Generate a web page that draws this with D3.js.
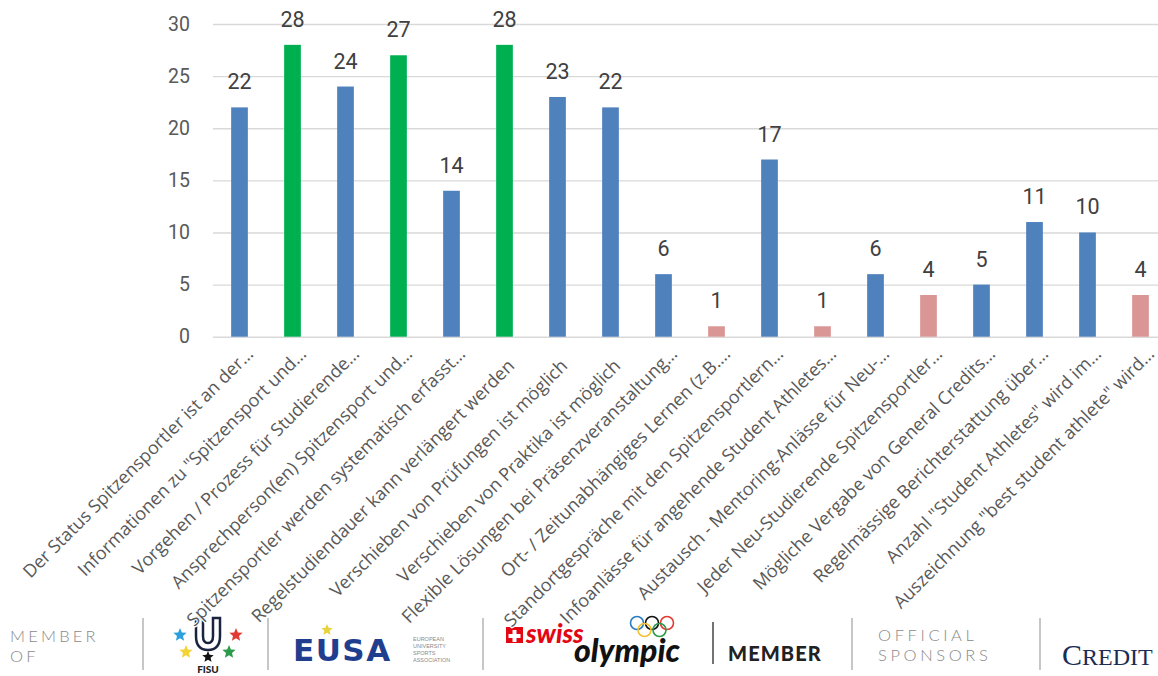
<!DOCTYPE html>
<html><head><meta charset="utf-8">
<script src="https://cdn.jsdelivr.net/npm/d3@7/dist/d3.min.js"></script>
<style>body{margin:0;background:#fff}svg{display:block}</style>
</head><body>
<svg id="c" width="1158" height="676"></svg>
<script>
const categories = [
  "Der Status Spitzensportler ist an der…",
  "Informationen zu \"Spitzensport und…",
  "Vorgehen / Prozess für Studierende…",
  "Ansprechperson(en) Spitzensport und…",
  "Spitzensportler werden systematisch erfasst…",
  "Regelstudiendauer kann verlängert werden",
  "Verschieben von Prüfungen ist möglich",
  "Verschieben von Praktika ist möglich",
  "Flexible Lösungen bei Präsenzveranstaltung…",
  "Ort- / Zeitunabhängiges Lernen (z.B.…",
  "Standortgespräche mit den Spitzensportlern…",
  "Infoanlässe für angehende Student Athletes…",
  "Austausch - Mentoring-Anlässe für Neu-…",
  "Jeder Neu-Studierende Spitzensportler…",
  "Mögliche Vergabe von General Credits…",
  "Regelmässige Berichterstattung über…",
  "Anzahl \"Student Athletes\" wird im…",
  "Auszeichnung \"best student athlete\" wird…"
];
const values = [22, 28, 24, 27, 14, 28, 23, 22, 6, 1, 17, 1, 6, 4, 5, 11, 10, 4];
const groups = ["a","b","a","b","a","b","a","a","a","c","a","c","a","c","a","a","a","c"];
const yTicks = [0, 5, 10, 15, 20, 25, 30];

const colors = {a: "#4F81BD", b: "#00B050", c: "#D99694"};
const svg = d3.select("#c");

const x = d3.scaleBand().domain(categories).range([213, 1167]).paddingInner(0.685).paddingOuter(0.3425);
const y = d3.scaleLinear().domain([0, 30]).range([336.7, 24]);

// gridlines
svg.append("g").attr("transform", "translate(213,0)")
  .call(d3.axisLeft(y).tickValues(yTicks).tickSize(-960).tickFormat(""))
  .call(g => g.select(".domain").remove())
  .call(g => g.selectAll("line").attr("stroke", "#d9d9d9").attr("stroke-width", 1.4));

// y axis labels
svg.append("g").attr("transform", "translate(213,0)")
  .call(d3.axisLeft(y).tickValues(yTicks).tickSize(0).tickPadding(23))
  .call(g => g.select(".domain").remove())
  .call(g => g.selectAll("text").attr("font-family", "Roboto, sans-serif").attr("font-size", 19.5).attr("fill", "#595959"));

// bars
svg.append("g").selectAll("rect").data(values).join("rect")
  .attr("x", (d, i) => x(categories[i]))
  .attr("width", x.bandwidth())
  .attr("y", d => y(d))
  .attr("height", d => y(0) - y(d))
  .attr("fill", (d, i) => colors[groups[i]]);

// value labels
svg.append("g").selectAll("text").data(values).join("text")
  .attr("x", (d, i) => x(categories[i]) + x.bandwidth() / 2)
  .attr("y", d => y(d) - 18)
  .attr("text-anchor", "middle")
  .attr("font-family", "Roboto, sans-serif")
  .attr("font-size", 21.5)
  .attr("fill", "#404040")
  .text(d => d);

// footer
const f = svg.append("g");
const sep = xx => f.append("line").attr("x1", xx).attr("x2", xx).attr("y1", 618).attr("y2", 670).attr("stroke", "#b5b5b5").attr("stroke-width", 1.5);
[143, 268, 483, 852, 1040].forEach(sep);
f.append("line").attr("x1", 713).attr("x2", 713).attr("y1", 622).attr("y2", 664).attr("stroke", "#444").attr("stroke-width", 1.5);

const lt = (t, xx, yy, size, fill, extra) => {
  const s = f.append("text").attr("x", xx).attr("y", yy).attr("font-size", size).attr("fill", fill)
    .attr("font-family", "Lato, 'Open Sans', sans-serif").text(t);
  if (extra) extra(s);
  return s;
};
lt("MEMBER", 10, 642, 16.5, "#8a8a8a", s => s.attr("font-weight", 300).attr("letter-spacing", 3.2));
lt("OF", 10, 662, 16.5, "#8a8a8a", s => s.attr("font-weight", 300).attr("letter-spacing", 3.2));
lt("OFFICIAL", 878, 641, 16.5, "#8a8a8a", s => s.attr("font-weight", 300).attr("letter-spacing", 3.6));
lt("SPONSORS", 878, 661, 16.5, "#8a8a8a", s => s.attr("font-weight", 300).attr("letter-spacing", 3.6));
lt("MEMBER", 728, 661, 20, "#222", s => s.attr("font-weight", 900).attr("letter-spacing", 1.1));

// FISU
f.append("path").attr("d", "M196 618 L196 636 Q196 650 208 650 Q220 650 220 636 L220 618 L213 618 L213 636 Q213 643 208 643 Q203 643 203 636 L203 618 Z")
  .attr("fill", "#fff").attr("stroke", "#1a2340").attr("stroke-width", 2.5);
const star = (cx, cy, r, col) => {
  const pts = d3.range(10).map(k => {
    const a = -Math.PI / 2 + k * Math.PI / 5, rr = k % 2 ? r * 0.45 : r;
    return [cx + rr * Math.cos(a), cy + rr * Math.sin(a)];
  });
  f.append("polygon").attr("points", pts.map(p => p.join(",")).join(" ")).attr("fill", col);
};
star(180, 635, 7, "#2aa0dd"); star(236, 635, 7, "#e23a32"); star(186, 652, 7, "#f2d43a");
star(208, 657, 6, "#111"); star(229, 652, 7, "#2b9a4a");
lt("FISU", 208, 673, 10, "#222", s => s.attr("font-weight", 900).attr("text-anchor", "middle"));

// EUSA
lt("EUSA", 293, 661, 31, "#1f3e8e", s => s.attr("font-weight", 900).attr("font-family", "'DejaVu Sans', sans-serif").attr("letter-spacing", 1.5));
star(327, 630, 6, "#e8d33a");
["EUROPEAN", "UNIVERSITY", "SPORTS", "ASSOCIATION"].forEach((t, i) =>
  lt(t, 413, 641 + i * 7, 5.5, "#8a8a8a", s => s.attr("font-family", "'Liberation Sans Narrow', 'Liberation Sans', sans-serif")));

// swiss olympic
f.append("rect").attr("x", 506).attr("y", 627).attr("width", 17).attr("height", 16).attr("fill", "#e30613");
f.append("path").attr("d", "M512.5 630h4v4h4v4h-4v4h-4v-4h-4v-4h4z").attr("fill", "#fff");
lt("swiss", 526, 643, 26, "#e30613", s => s.attr("font-weight", 900).attr("font-style", "italic"));
lt("olympic", 574, 662, 32, "#111", s => s.attr("font-weight", 900).attr("font-style", "italic"));
[[637, 623, "#2a7cc1"], [652, 623, "#111"], [667, 623, "#e23a32"], [644.5, 630, "#f2c230"], [659.5, 630, "#2b9a4a"]]
  .forEach(([cx, cy, col]) => f.append("circle").attr("cx", cx).attr("cy", cy).attr("r", 6.5).attr("fill", "none").attr("stroke", col).attr("stroke-width", 1.6));

// Credit
const cr = f.append("text").attr("x", 1062).attr("y", 665).attr("font-family", "'Liberation Serif', serif").attr("fill", "#1b2c55").attr("font-size", 30);
cr.append("tspan").text("C");
cr.append("tspan").attr("font-size", 24).text("REDIT");

// category labels (drawn over footer, with a white halo)
svg.append("g").selectAll("text").data(categories).join("text")
  .attr("transform", d => {
    const cx = x(d) + x.bandwidth() / 2;
    const trunc = d.endsWith("…");
    return `translate(${cx + (trunc ? 15 : 11)},${trunc ? 355 : 367}) rotate(-45)`;
  })
  .attr("text-anchor", "end")
  .attr("font-family", "'Open Sans', sans-serif")
  .attr("font-size", 18)
  .attr("fill", "#595959")
  .attr("stroke", "#fff").attr("stroke-width", 2.5).attr("paint-order", "stroke")
  .text(d => d);
</script>
</body></html>
